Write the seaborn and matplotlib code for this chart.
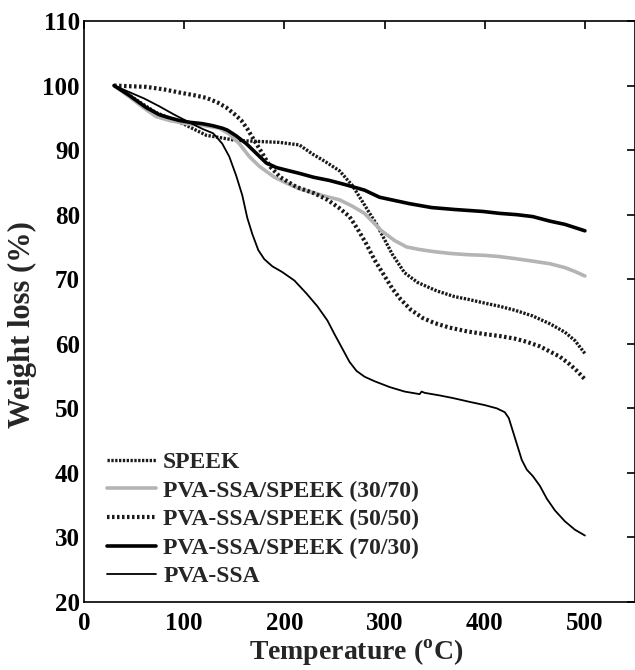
import numpy as np
import pandas as pd
import matplotlib
matplotlib.use("Agg")
import matplotlib.pyplot as plt
import seaborn as sns

# ---- data ----
speek_T = [30, 40, 50, 60, 72, 85, 100, 122, 152, 180, 195, 215, 228, 240, 255, 268, 280, 292,
           308, 320, 333, 352, 370, 383, 400, 415, 430, 448, 465, 480, 490, 500]
speek_W = [100, 99, 98, 97, 95.8, 95, 94, 92.3, 91.5, 91.3, 91.2, 90.8, 89.4, 88.3, 86.8, 84.5, 81.5, 78.5,
           73.8, 71, 69.5, 68.2, 67.3, 66.9, 66.3, 65.8, 65.2, 64.3, 63.1, 61.8, 60.5, 58.5]

s3070_T = [30, 45, 60, 72, 85, 102, 120, 135, 145, 155, 165, 175, 190, 202, 215, 229, 242, 255, 268,
           280, 297, 310, 322, 335, 348, 365, 383, 400, 415, 430, 448, 465, 480, 490, 500]
s3070_W = [100, 98.3, 96.5, 95.2, 94.6, 94.1, 93.8, 93.4, 92.5, 91, 89, 87.5, 85.8, 84.9, 84, 83.4, 82.8,
           82.3, 81.3, 80.2, 77.5, 76, 75, 74.6, 74.3, 74, 73.8, 73.7, 73.5, 73.2, 72.8, 72.4, 71.8, 71.2, 70.5]

s5050_T = [30, 45, 62, 80, 96, 110, 122, 133, 142, 150, 157, 163, 170, 178, 186, 196, 212, 230, 243,
           255, 265, 273, 281, 290, 298, 308, 316, 326, 338, 350, 365, 383, 400, 415, 430, 442, 455, 465,
           475, 485, 492, 500]
s5050_W = [100, 99.9, 99.8, 99.4, 98.9, 98.5, 98.1, 97.4, 96.6, 95.6, 94.6, 93.3, 91.5, 89.5, 87.4, 85.8,
           84.3, 83.3, 82.3, 81, 79.7, 77.8, 75.7, 73, 71, 68.5, 66.9, 65.3, 64, 63.2, 62.5, 61.9, 61.5,
           61.2, 60.8, 60.3, 59.6, 58.8, 58, 56.8, 55.8, 54.5]

s7030_T = [30, 45, 62, 75, 83, 95, 106, 118, 128, 138, 143, 152, 162, 172, 182, 192, 202, 215, 229, 245,
           262, 280, 295, 310, 325, 347, 370, 398, 415, 432, 448, 465, 480, 490, 500]
s7030_W = [100, 98.5, 96.6, 95.5, 95.1, 94.6, 94.3, 94.1, 93.8, 93.4, 93.1, 92.2, 91, 89.5, 88, 87.3,
           86.9, 86.4, 85.8, 85.3, 84.6, 83.8, 82.7, 82.2, 81.7, 81.1, 80.8, 80.5, 80.2, 80, 79.7, 79,
           78.5, 78, 77.5]

pva_T = [30, 45, 60, 75, 90, 105, 118, 129, 138, 145, 152, 158, 163, 168, 174, 180, 188, 198, 210, 222,
         233, 243, 250, 257, 265, 272, 280, 290, 305, 320, 335, 337, 340, 355, 368, 385, 400, 412, 420,
         424, 428, 432, 437, 442, 448, 455, 462, 470, 480, 490, 500]
pva_W = [100, 99, 98, 96.8, 95.5, 94.3, 93.3, 92.6, 91, 89, 86, 83, 79.5, 77, 74.5, 73.1, 72, 71.1, 69.8,
         67.8, 65.8, 63.6, 61.5, 59.5, 57.2, 55.8, 54.9, 54.2, 53.3, 52.6, 52.2, 52.6, 52.4, 52, 51.6, 51,
         50.5, 50, 49.4, 48.5, 46.5, 44.5, 42, 40.5, 39.5, 38, 36, 34.2, 32.5, 31.2, 30.3]

labels = ["SPEEK", "PVA-SSA/SPEEK (30/70)", "PVA-SSA/SPEEK (50/50)",
          "PVA-SSA/SPEEK (70/30)", "PVA-SSA"]
xticks = [0, 100, 200, 300, 400, 500]
yticks = [20, 30, 40, 50, 60, 70, 80, 90, 100, 110]

# ---- style ----
sns.set_theme(style="white")
plt.rcParams["font.family"] = ["Liberation Serif", "DejaVu Serif"]
plt.rcParams["font.weight"] = "bold"
plt.rcParams["mathtext.fontset"] = "custom"
plt.rcParams["mathtext.rm"] = "Liberation Serif:bold"
plt.rcParams["mathtext.bf"] = "Liberation Serif:bold"

fig = plt.figure(figsize=(6.35, 6.7), dpi=100)
ax = fig.add_axes([84 / 635, 1 - 602 / 670, 551 / 635, 581 / 670])

series = [
    (speek_T, speek_W, dict(color="#1a1a1a", lw=2.4, dashes=(0.7, 0.45))),
    (s3070_T, s3070_W, dict(color="#b4b4b4", lw=2.6)),
    (s5050_T, s5050_W, dict(color="#1a1a1a", lw=3.0, dashes=(0.6, 0.6))),
    (s7030_T, s7030_W, dict(color="black", lw=2.6)),
    (pva_T, pva_W, dict(color="black", lw=1.3)),
]
for (T, W, st), lab in zip(series, labels):
    df = pd.DataFrame({"T": T, "W": W})
    kw = dict(color=st["color"], linewidth=st["lw"], label=lab, sort=False, ax=ax)
    line = sns.lineplot(data=df, x="T", y="W", **kw).lines[-1]
    if "dashes" in st:
        line.set_dashes(st["dashes"])
        line.set_dash_capstyle("butt")

ax.set_xlim(0, 550)
ax.set_ylim(20, 110)
ax.set_xticks(xticks)
ax.set_yticks(yticks)
ax.tick_params(direction="in", length=6, width=1.2, top=True, right=True,
               labelsize=18, colors="black")
ax.tick_params(axis="x", pad=7)
ax.tick_params(axis="y", pad=3)
for lab in ax.get_xticklabels() + ax.get_yticklabels():
    lab.set_fontweight("bold")
for sp in ax.spines.values():
    sp.set_visible(True)
    sp.set_color("black")
    sp.set_linewidth(1.2)

ax.set_xlabel(r"Temperature ($^{\mathrm{o}}$C)", fontsize=20, fontweight="bold")
ax.set_ylabel("Weight loss (%)", fontsize=22, fontweight="bold")
ax.xaxis.set_label_coords(0.494, -0.061)
ax.yaxis.set_label_coords(-0.086, 0.478)

leg = ax.legend(loc="lower left", bbox_to_anchor=(0.0417, 0.025), frameon=False,
                prop={"family": "Liberation Serif", "weight": "bold", "size": 17},
                handlelength=2.08, handletextpad=0.3, labelspacing=0.3,
                borderpad=0, borderaxespad=0)

fig.savefig("out.png", dpi=100)
